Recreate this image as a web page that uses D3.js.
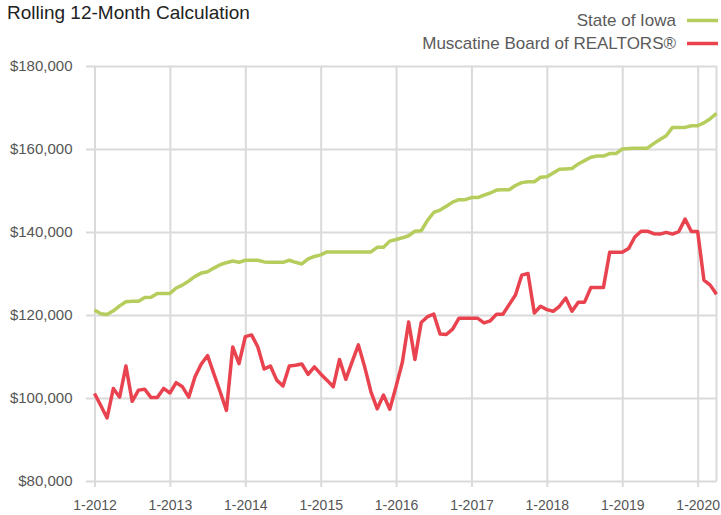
<!DOCTYPE html>
<html>
<head>
<meta charset="utf-8">
<script src="https://cdn.jsdelivr.net/npm/d3@7"></script>
<style>
  body { margin: 0; background: #fff; }
  svg { display: block; font-family: "Liberation Sans", Arial, sans-serif; }
</style>
</head>
<body>
<div id="chart"></div>
<script>
const width = 721;
const height = 515;

// Year tick labels, placed every 12 months starting at month 0 (1-2012)
const yearLabels = ["1-2012", "1-2013", "1-2014", "1-2015", "1-2016", "1-2017", "1-2018", "1-2019", "1-2020"];
const yTicks = [80000, 100000, 120000, 140000, 160000, 180000];

// Rolling 12-month median sales price, monthly from 1-2012 to 4-2020
const iowa = [
  121200, 120300, 120100, 121000, 122200, 123200, 123300, 123300, 124200, 124300, 125200, 125200,
  125200, 126500, 127200, 128200, 129300, 130100, 130400, 131300, 132100, 132600, 133000, 132700,
  133200, 133200, 133200, 132800, 132700, 132700, 132700, 133200, 132700, 132300, 133500, 134100,
  134500, 135200, 135200, 135200, 135200, 135200, 135200, 135200, 135200, 136300, 136300, 137800,
  138200, 138600, 139100, 140200, 140300, 142800, 144700, 145300, 146200, 147200, 147800, 147800,
  148300, 148300, 148900, 149400, 150100, 150200, 150200, 151200, 151900, 152100, 152100, 153200,
  153300, 154200, 155100, 155200, 155300, 156400, 157200, 158000, 158300, 158300, 158900, 158900,
  160000, 160100, 160200, 160200, 160200, 161300, 162300, 163200, 165200, 165200, 165200, 165600,
  165600, 166300, 167300, 168600
];
const muscatine = [
  101100, 98200, 95200, 102300, 100200, 107700, 99200, 101900, 102100, 100100, 100100, 102300,
  101200, 103700, 102700, 100200, 105100, 108200, 110200, 105800, 101500, 97000, 112300, 108300,
  114800, 115200, 112300, 107000, 107700, 104300, 102900, 107700, 107900, 108200, 105700, 107500,
  105800, 104300, 102700, 109300, 104500, 108700, 112800, 107500, 101500, 97400, 100700, 97300,
  102800, 108600, 118300, 109300, 118200, 119600, 120200, 115400, 115300, 116600, 119200, 119200,
  119200, 119200, 118100, 118600, 120200, 120200, 122500, 124800, 129600, 130000, 120500, 122100,
  121300, 120900, 122100, 124100, 120900, 123100, 123100, 126600, 126600, 126600, 135100, 135100,
  135100, 136000, 138800, 140200, 140200, 139600, 139500, 139900, 139500, 140100, 143100, 140100,
  140100, 128400, 127200, 125000
];

const seriesNames = ["State of Iowa", "Muscatine Board of REALTORS®"];
const seriesColors = ["#b4cd5c", "#e8434f"];

const margin = { top: 66, right: 4.5, bottom: 34, left: 94.5 };
const x = d3.scaleLinear()
  .domain([0, iowa.length - 1])
  .range([margin.left, width - margin.right]);
const y = d3.scaleLinear()
  .domain([80000, 180000])
  .range([height - margin.bottom, margin.top]);

const svg = d3.select("#chart")
  .append("svg")
  .attr("width", width)
  .attr("height", height);

const gridColor = "#dadada";

// y axis with full-width gridlines
const yAxis = svg.append("g")
  .attr("transform", `translate(${margin.left},0)`)
  .call(d3.axisLeft(y).tickValues(yTicks).tickFormat(d3.format("$,")).tickSizeInner(0).tickPadding(22));
yAxis.select(".domain").remove();
yAxis.selectAll(".tick line")
  .attr("x1", -8.5)
  .attr("x2", x.range()[1] - margin.left)
  .attr("stroke", gridColor)
  .attr("stroke-width", 2);
yAxis.selectAll(".tick text")
  .attr("fill", "#555")
  .style("font-size", "15px");

// x axis with full-height gridlines
const xAxis = svg.append("g")
  .attr("transform", `translate(0,${y(80000)})`)
  .call(d3.axisBottom(x)
    .tickValues(yearLabels.map((d, i) => i * 12))
    .tickFormat((d, i) => yearLabels[i])
    .tickSizeInner(0)
    .tickPadding(19));
xAxis.select(".domain").remove();
xAxis.selectAll(".tick line")
  .attr("y1", y(180000) - y(80000))
  .attr("y2", 6)
  .attr("stroke", gridColor)
  .attr("stroke-width", 2);
xAxis.selectAll(".tick text")
  .attr("fill", "#555")
  .style("font-size", "14px");

// right border of plot
svg.append("line")
  .attr("x1", x.range()[1]).attr("x2", x.range()[1])
  .attr("y1", y(180000)).attr("y2", y(80000))
  .attr("stroke", gridColor)
  .attr("stroke-width", 2);

const line = d3.line()
  .x((d, i) => x(i))
  .y(d => y(d));

[iowa, muscatine].forEach((values, k) => {
  svg.append("path")
    .datum(values)
    .attr("fill", "none")
    .attr("stroke", seriesColors[k])
    .attr("stroke-width", 3.5)
    .attr("stroke-linejoin", "round")
    .attr("d", line);
});

// title
svg.append("text")
  .attr("x", 7)
  .attr("y", 18.5)
  .attr("fill", "#222")
  .style("font-size", "19px")
  .text("Rolling 12-Month Calculation");

// legend
const legend = svg.append("g");
seriesNames.forEach((name, k) => {
  const ly = 20.5 + k * 23;
  legend.append("text")
    .attr("x", 676)
    .attr("y", ly + 5.5)
    .attr("text-anchor", "end")
    .attr("fill", "#5a5a5a")
    .style("font-size", "17px")
    .text(name);
  legend.append("line")
    .attr("x1", 687).attr("x2", 718)
    .attr("y1", ly).attr("y2", ly)
    .attr("stroke", seriesColors[k])
    .attr("stroke-width", 3.5);
});
</script>
</body>
</html>
